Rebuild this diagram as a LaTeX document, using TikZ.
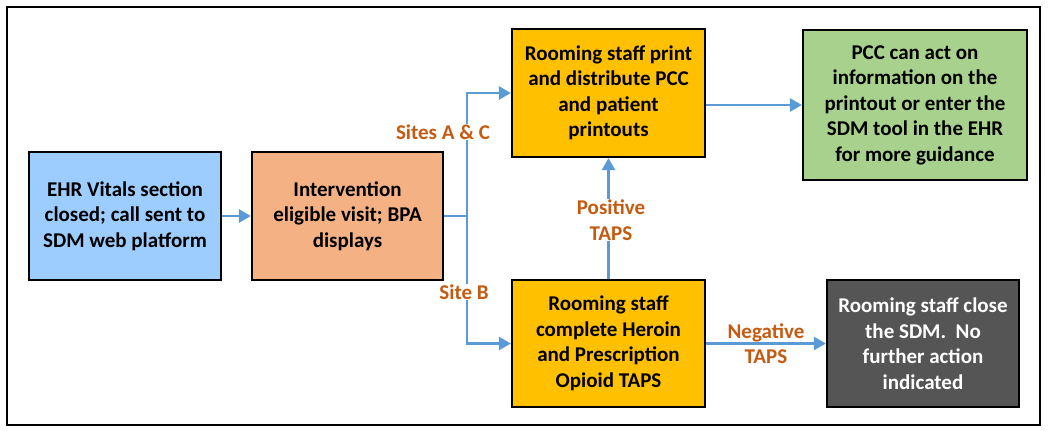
\documentclass[tikz,border=0pt]{standalone}
\usepackage{fontspec}
\setmainfont{Carlito}
\usetikzlibrary{arrows.meta}
\definecolor{cblue}{HTML}{9DCCFF}
\definecolor{corange}{HTML}{F4B183}
\definecolor{cyellow}{HTML}{FFC000}
\definecolor{cgreen}{HTML}{A9D18E}
\definecolor{cdark}{HTML}{555555}
\definecolor{clabel}{HTML}{C55A11}
\definecolor{carrow}{HTML}{5B9BD5}
\tikzset{
  box/.style={draw=black, line width=2.2pt, align=center, inner sep=2pt,
    font=\fontsize{21}{25.5}\selectfont\bfseries},
  arr/.style={draw=carrow, line width=2.6pt,
    -{Triangle[length=12pt,width=13pt]}},
  lnk/.style={draw=carrow, line width=2.6pt},
  lbl/.style={text=clabel, align=center, inner sep=1pt,
    font=\fontsize{21}{25.5}\selectfont\bfseries},
}
\begin{document}
\begin{tikzpicture}[x=1pt,y=-1pt]
\useasboundingbox (0,0) rectangle (1050,431);
\draw[line width=1.8pt] (7,7) rectangle (1040,425);

\node[box, fill=cblue, minimum width=192pt, minimum height=128pt] (b1) at (125,216)
  {EHR Vitals section\\closed; call sent to\\SDM web platform};
\node[box, fill=corange, minimum width=191pt, minimum height=128pt] (b2) at (347.5,216)
  {Intervention\\eligible visit; BPA\\displays};
\node[box, fill=cyellow, minimum width=193pt, minimum height=128pt] (b3) at (608.5,93)
  {Rooming staff print\\and distribute PCC\\and patient\\printouts};
\node[box, fill=cyellow, minimum width=193pt, minimum height=127pt] (b4) at (608.5,343.5)
  {Rooming staff\\complete Heroin\\and Prescription\\Opioid TAPS};
\node[box, fill=cgreen, minimum width=224pt, minimum height=150pt] (b5) at (915,105)
  {PCC can act on\\information on the\\printout or enter the\\SDM tool in the EHR\\for more guidance};
\node[box, fill=cdark, text=white, minimum width=192pt, minimum height=127pt] (b6) at (923,343.5)
  {Rooming staff close\\the SDM.\ \ No\\further action\\indicated};

\coordinate (j) at (467,216);
\draw[arr] (b1.east) -- (b2.west);
\draw[lnk] (b2.east) -- (j);
\draw[arr] (j) |- (b3.west);
\draw[arr] (j) |- (b4.west);
\draw[arr] (b3.east |- b5.west) -- (b5.west);
\draw[arr] (b4.north) -- (b3.south);
\draw[arr] (b4.east) -- (b6.west);

\node[lbl, fill=white] (la) at (443,132) {Sites A \& C};
\node[lbl, fill=white] (lb) at (464,292) {Site B};
\node[lbl, fill=white] (lp) at (611,220) {Positive\\TAPS};
\node[lbl] (ln) at (766,343.5) {Negative\\TAPS};
\end{tikzpicture}
\end{document}
